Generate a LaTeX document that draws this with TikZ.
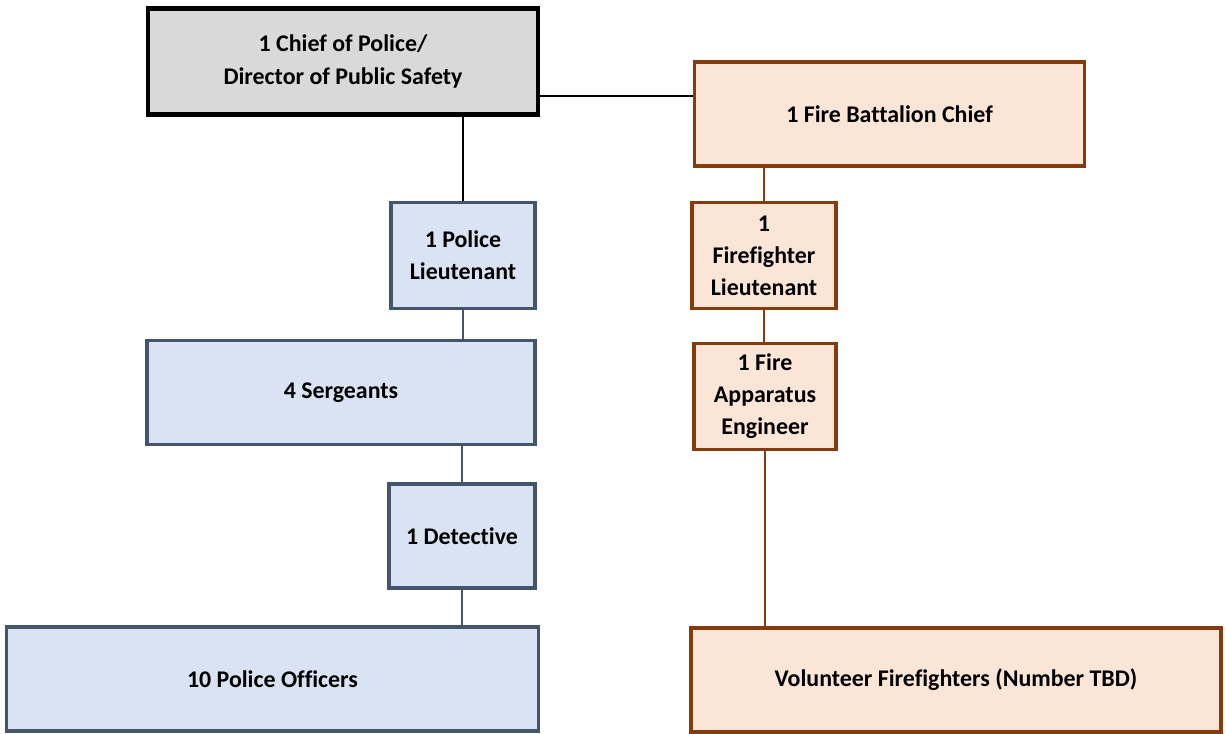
\documentclass[tikz,border=0pt]{standalone}
\usepackage{fontspec}
\setmainfont{Carlito}[RawFeature=-liga]
\usetikzlibrary{positioning,calc}

\definecolor{chiefgray}{HTML}{D9D9D9}
\definecolor{policeblue}{HTML}{DAE3F3}
\definecolor{policeline}{HTML}{44546A}
\definecolor{firepeach}{HTML}{FBE5D6}
\definecolor{fireline}{HTML}{843C0C}

\begin{document}
\begin{tikzpicture}[
        x=0.025cm, y=-0.025cm,
        box/.style={rectangle, align=center, inner sep=2pt, font=\fontsize{17}{22.8}\selectfont\bfseries, line width=2.7pt},
        chiefnode/.style={box, draw=black, fill=chiefgray, line width=3pt},
        policenode/.style={box, draw=policeline, fill=policeblue},
        firenode/.style={box, draw=fireline, fill=firepeach},
        policelink/.style={draw=policeline, line width=1.6pt},
        firelink/.style={draw=fireline, line width=1.6pt},
        ]
        \useasboundingbox (0,0) rectangle (1225,734);
        %Nodes
        \node[chiefnode, minimum width=9.75cm, minimum height=2.65cm] (chief) at (343,61.5) {1 Chief of Police/\\Director of Public Safety};
        \node[firenode, minimum width=9.75cm, minimum height=2.6cm] (battalion) at (889.5,114) {1 Fire Battalion Chief};

        \node[policenode, minimum width=3.6cm, minimum height=2.65cm] (plt) at (463,255.5) {1 Police\\Lieutenant};
        \node[policenode, minimum width=9.7cm, minimum height=2.6cm] (serg) at (341,392.5) {4 Sergeants};
        \node[policenode, minimum width=3.65cm, minimum height=2.6cm] (det) at (462,536) {1 Detective};
        \node[policenode, minimum width=13.3cm, minimum height=2.6cm] (off) at (272.5,679) {10 Police Officers};

        \node[firenode, minimum width=3.6cm, minimum height=2.65cm] (fflt) at (764,255.5) {1\\Firefighter\\Lieutenant};
        \node[firenode, minimum width=3.55cm, minimum height=2.65cm] (app) at (765,396.5) {1 Fire\\Apparatus\\Engineer};
        \node[firenode, minimum width=13.25cm, minimum height=2.6cm] (vol) at (956,680) {Volunteer Firefighters (Number TBD)};

        %Lines
        \draw[line width=1.6pt] ([yshift=-0.86cm]chief.east) -- ([yshift=-0.86cm]chief.east -| battalion.west);
        \draw[line width=1.6pt] (chief.south -| plt.north) -- (plt.north);
        \draw[policelink] (plt.south) -- (plt.south |- serg.north);
        \draw[policelink] (det.north |- serg.south) -- (det.north);
        \draw[policelink] (det.south) -- (det.south |- off.north);

        \draw[firelink] (battalion.south -| fflt.north) -- (fflt.north);
        \draw[firelink] (fflt.south) -- (fflt.south |- app.north);
        \draw[firelink] (app.south) -- (app.south |- vol.north);
    \end{tikzpicture}
\end{document}
